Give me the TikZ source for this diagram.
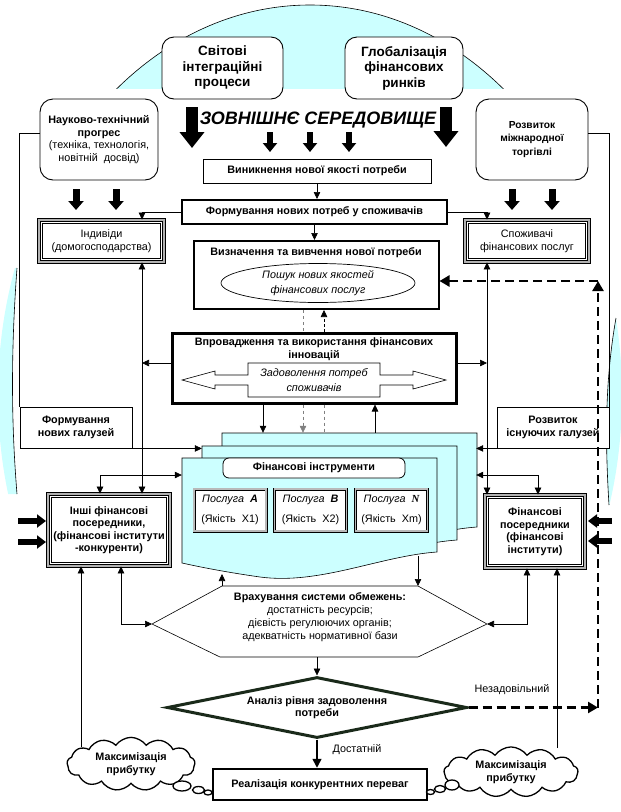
\documentclass[tikz,border=0pt]{standalone}
\usepackage{fontspec}
\setmainfont{Liberation Sans}
\newfontfamily\serifnf{Liberation Serif}
\usetikzlibrary{arrows.meta,shapes.geometric,shapes.symbols}
\definecolor{lcyan}{HTML}{CCFFFF}
\definecolor{dgreen}{HTML}{1A2A1A}
\newcommand\fsz[2]{\fontsize{#1}{#2}\selectfont}
\begin{document}
\begin{tikzpicture}[x=1pt,y=-1pt,
  every node/.style={inner sep=0pt, align=center, font=\fsz{10.8}{12.5}},
  bfn/.style={font=\bfseries\fsz{10.8}{12.5}},
  box/.style={draw, line width=0.9pt, fill=white},
  tbox/.style={draw, line width=2pt, fill=white},
  rbox/.style={draw, line width=0.9pt, rounded corners=12pt, fill=white},
  tri/.style={draw, line width=0.7pt, double=gray!60, double distance=2.2pt, fill=white},
  svc/.style={draw, line width=0.6pt, double=gray!55, double distance=1.8pt, fill=white},
  arr/.style={line width=0.6pt, -{Triangle[length=7pt,width=6.5pt]}},
  darr/.style={line width=0.6pt, {Triangle[length=7pt,width=6.5pt]}-{Triangle[length=7pt,width=6.5pt]}},
  fatv/.style={line width=6pt, -{Triangle[length=9pt,width=14pt]}},
  fatw/.style={line width=7pt, -{Triangle[length=9pt,width=15pt]}},
  fath/.style={line width=6pt, -{Triangle[length=9pt,width=13pt]}},
  fatb/.style={line width=12pt, -{Triangle[length=16pt,width=24pt]}},
  dsh/.style={line width=2.4pt, dash pattern=on 9pt off 5pt, -{Triangle[length=10pt,width=11pt]}},
  sheet/.style={fill=lcyan, draw, line width=0.6pt},
  bub/.style={draw, line width=1.3pt, fill=white},
  cld/.style={cloud, draw, line width=1.3pt, fill=white, cloud puffs=13, cloud puff arc=110},
]
\useasboundingbox (0,0) rectangle (621,812);
% ---------- background ellipse (visible parts) ----------
\begin{scope}
  \clip (0,0) rectangle (621,88);
  \fill[lcyan] (310,395) ellipse [x radius=312pt, y radius=390pt];
  \draw[line width=0.6pt] (310,395) ellipse [x radius=312pt, y radius=390pt];
\end{scope}
\begin{scope}
  \clip (-5,268) -- (17,268) .. controls (11,350) and (11,420) .. (17,494) -- (-5,494) -- cycle;
  \fill[lcyan] (310,395) ellipse [x radius=312pt, y radius=390pt];
\end{scope}
\draw[line width=0.6pt] (17,268) .. controls (11,350) and (11,420) .. (17,494);
\begin{scope}
  \clip (626,318) -- (616,318) .. controls (605,380) and (605,440) .. (609,505) -- (626,505) -- cycle;
  \fill[lcyan] (310,395) ellipse [x radius=312pt, y radius=390pt];
\end{scope}
\draw[line width=0.6pt] (616,318) .. controls (605,380) and (605,440) .. (609,505);

% ---------- top nodes ----------
\node[rbox, minimum width=121, minimum height=62, font=\bfseries\fsz{13.5}{15.5}] (sv) at (222.5,68) {Світові\\інтеграційні\\процеси};
\node[rbox, minimum width=118, minimum height=62, font=\bfseries\fsz{13.5}{15.5}] (gl) at (404,68) {Глобалізація\\фінансових\\ринків};
\node[rbox, rounded corners=13pt, minimum width=118, minimum height=81] (nt) at (99,139.5) {\textbf{Науково-технічний}\\\textbf{прогрес}\\(техніка, технологія,\\новітній\ \ досвід)};
\node[rbox, rounded corners=13pt, minimum width=112, minimum height=81, font=\bfseries\fsz{10.2}{13.5}] (rm) at (532,139.5) {Розвиток\\міжнародної\\торгівлі};
\node[font=\bfseries\itshape\fsz{18}{20}] (zs) at (318,120) {ЗОВНІШНЄ СЕРЕДОВИЩЕ};

\node[box, bfn, minimum width=228, minimum height=24] (vyn) at (317,171) {Виникнення нової якості потреби};
\node[tbox, bfn, minimum width=265, minimum height=24] (form) at (314.5,212) {Формування нових потреб у споживачів};
\node[tri, minimum width=125, minimum height=42] (ind) at (101.5,241) {Індивіди\\(домогосподарства)};
\node[tri, minimum width=124, minimum height=42] (spo) at (527,241) {Споживачі\\фінансових послуг};

\node[tbox, minimum width=245, minimum height=68] (vyz) at (316,275) {};
\node[bfn] (vyzt) at (316,253) {Визначення та вивчення нової потреби};
\node[draw, ellipse, line width=0.7pt, minimum width=194, minimum height=39, font=\itshape\fsz{10.8}{14.5}] (ell) at (318,283) {Пошук нових якостей\\фінансових послуг};

\node[draw, line width=3pt, fill=white, minimum width=284, minimum height=70] (vpr) at (314,368) {};
\node[bfn] (vprt) at (314,349) {Впровадження та використання фінансових\\інновацій};
\draw[line width=0.6pt, fill=white] (182,380) -- (215,371) -- (215,375) -- (248,375) -- (248,363) -- (380,363) -- (380,375) -- (413,375) -- (413,371) -- (446,380) -- (413,389) -- (413,385) -- (380,385) -- (380,397) -- (248,397) -- (248,385) -- (215,385) -- (215,389) -- cycle;
\node[font=\itshape\fsz{10.8}{14.5}] (zp) at (314,380) {Задоволення потреб\\споживачів};

\node[box, bfn, minimum width=112, minimum height=41] (ngal) at (76,427.5) {Формування\\нових галузей};
\node[box, bfn, minimum width=112, minimum height=41] (igal) at (553,427.5) {Розвиток\\існуючих галузей};

% ---------- stack of sheets ----------
\def\sheetpath{(182,458) -- (437,458) -- (437,552) .. controls (380,556) and (320,585) .. (260,577) .. controls (225,572) and (200,567) .. (182,563) -- cycle}
\begin{scope}[shift={(40,-25)}]
  \draw[sheet] \sheetpath;
\end{scope}
\begin{scope}[shift={(20,-12)}]
  \draw[sheet] \sheetpath;
\end{scope}
\draw[sheet] \sheetpath;
\node[minimum width=254, minimum height=95] (back) at (349,480.5) {};
\node[minimum width=255, minimum height=94] (mid) at (329.5,493) {};
\node[minimum width=255, minimum height=107] (front) at (309.5,511.5) {};
\node[draw, line width=0.8pt, fill=white, rounded corners=6pt, minimum width=182, minimum height=20, bfn] (hdr) at (314,468) {Фінансові інструменти};
\node[svc, minimum width=72, minimum height=42] (sA) at (230,510) {\itshape Послуга\ \ \textbf{A}\\[8pt]\upshape(Якість\ \ X1)};
\node[svc, minimum width=72, minimum height=42] (sB) at (310.5,510) {\itshape Послуга\ \ \textbf{B}\\[8pt]\upshape(Якість\ \ X2)};
\node[svc, minimum width=72, minimum height=42] (sN) at (391.5,510) {\itshape Послуга\ \ {\serifnf\bfseries N}\\[8pt]\upshape(Якість\ \ Xm)};

% ---------- intermediaries ----------
\node[tri, bfn, minimum width=122, minimum height=72] (inshi) at (109,530) {Інші фінансові\\посередники,\\(фінансові інститути\\-конкуренти)};
\node[tri, bfn, minimum width=100, minimum height=73] (fpos) at (535,531.5) {Фінансові\\посередники\\(фінансові\\інститути)};
\foreach \n in {ind,spo,inshi,fpos}
  \draw[line width=1.3pt] ([shift={(3.6,3.6)}]\n.north west) rectangle ([shift={(-3.6,-3.6)}]\n.south east);

% ---------- hexagon ----------
\draw[line width=0.6pt, fill=white] (222,586) coordinate (hTL) -- (418,586) coordinate (hTR) -- (487,624) coordinate (hR) -- (418,657) coordinate (hBR) -- (220,657) coordinate (hBL) -- (152,624) coordinate (hL) -- cycle;
\node[font=\fsz{10.8}{13}] (hex) at (320,617) {\textbf{Врахування системи обмежень:}\\достатність ресурсів;\\дієвість регулюючих органів;\\адекватність нормативної бази};

% ---------- decision and result ----------
\node[diamond, aspect=4.9, draw=dgreen, line width=3pt, fill=white, minimum width=300, minimum height=61, bfn] (anal) at (317,707.5) {Аналіз рівня задоволення\\потреби};
\node[draw, line width=2.5pt, fill=white, minimum width=214, minimum height=31, bfn] (real) at (320,784.5) {Реалізація конкурентних переваг};

\node[cld, aspect=2.4, minimum width=128, minimum height=52, bfn] (cL) at (131,764) {Максимізація\\прибутку};
\node[cld, aspect=2.6, minimum width=134, minimum height=50, bfn] (cR) at (511,772) {Максимізація\\прибутку};
\draw[bub] (182,786) ellipse [x radius=9pt, y radius=5pt];
\draw[bub] (198.5,790) ellipse [x radius=6pt, y radius=3.5pt];
\draw[bub] (208,792.5) ellipse [x radius=4pt, y radius=2.5pt];
\draw[bub] (452,785) ellipse [x radius=7pt, y radius=5pt];
\draw[bub] (440,789) ellipse [x radius=5.5pt, y radius=3.5pt];
\draw[bub] (430.5,792) ellipse [x radius=4pt, y radius=2.5pt];

% ---------- coordinates ----------
\coordinate (xL) at (142,0);
\coordinate (xR) at (487,0);
\coordinate (y133) at (0,133);
\coordinate (y363) at (0,363);
\coordinate (y475) at (0,475);
\coordinate (c263) at (263,0);
\coordinate (c303) at (303,0);
\coordinate (c324) at (324,0);
\coordinate (c375) at (375,0);
\coordinate (c100) at (100,0);
\coordinate (c538) at (538,0);
\coordinate (c121) at (121,0);
\coordinate (c527) at (527,0);
\coordinate (cLt) at (81,747);
\coordinate (cRt) at (557,748);
\coordinate (fb1) at (222,574);
\coordinate (fb2) at (418,556);
\coordinate (d1) at (598,707.5);
\coordinate (d2) at (598,281);

% ---------- connectors ----------
\draw[line width=0.6pt] (nt.west |- y133) -| (ngal.north west);
\draw[line width=0.6pt] (rm.east |- y133) -| (igal.north east);
\draw[arr] (vyn.south) -- (vyn.south |- form.north);
\draw[arr] (form.south) -- (form.south |- vyz.north);
\draw[arr] (form.west) -| (xL |- ind.north);
\draw[arr] (form.east) -| (xR |- spo.north);
\draw[darr] (xL |- ind.south) -- (xL |- inshi.north);
\draw[darr] (xR |- spo.south) -- (xR |- fpos.north);
\draw[arr] (vpr.west |- y363) -- (xL |- y363);
\draw[arr] (vpr.east |- y363) -- (xR |- y363);
\draw[gray, line width=0.6pt, dashed] (c303 |- vyz.south) -- (c303 |- vpr.north);
\draw[line width=0.6pt, dash pattern=on 3pt off 2pt, -{Triangle[length=7pt,width=6.5pt]}] (c324 |- vpr.north) -- (c324 |- vyz.south);
\draw[arr] (c263 |- vpr.south) -- (c263 |- back.north);
\draw[gray, line width=0.6pt, dashed, -{Triangle[length=7pt,width=6.5pt]}] (c303 |- vpr.south) -- (c303 |- back.north);
\draw[gray, line width=0.6pt, dashed] (c324 |- vpr.south) -- (c324 |- back.north);
\draw[arr] (c375 |- back.north) -- (c375 |- vpr.south);
\draw[arr] (ngal.south east) -- (ngal.south east -| mid.west);
\draw[darr] (c100 |- inshi.north) |- (front.west |- y475);
\draw[arr] (igal.south west) -- (igal.south west -| back.east);
\draw[darr] (c538 |- fpos.north) |- (back.east |- y475);
\draw[arr] (cLt) -- (cLt |- inshi.south);
\draw[darr] (c121 |- inshi.south) |- (hL);
\draw[darr] (c527 |- fpos.south) |- (hR);
\draw[arr] (cRt) -- (cRt |- fpos.south);
\draw[arr] (hTL) -- (fb1);
\draw[arr] (fb2) -- (hTR);
\draw[arr] (anal.north |- hBL) -- (anal.north);
\draw[line width=1.6pt, -{Triangle[length=9pt,width=9pt]}] (anal.south) -- (anal.south |- real.north);
\node (ok) at (357,750) {Достатній};
\node (bad) at (512,690) {Незадовільний};

% ---------- fat arrows ----------
\draw[fatb] (192,107) -- (192,148);
\draw[fatb] (446,107) -- (446,147);
\draw[fatv] (270,132) -- (270,152);
\draw[fatv] (310,132) -- (310,152);
\draw[fatv] (349,132) -- (349,152);
\draw[fatw] (76,189) -- (76,210);
\draw[fatw] (116,189) -- (116,210);
\draw[fatw] (512,189) -- (512,210);
\draw[fatw] (552,189) -- (552,210);
\draw[fath] (18,521) -- (46,521);
\draw[fath] (18,542) -- (46,542);
\draw[fath] (612,521) -- (588,521);
\draw[fath] (612,541) -- (588,541);

% ---------- dashed feedback ----------
\draw[dsh] (anal.east) -- (d1);
\draw[dsh] (d1) -- (d2);
\draw[dsh] (d2) -- (vyz.east |- d2);
\end{tikzpicture}
\end{document}
